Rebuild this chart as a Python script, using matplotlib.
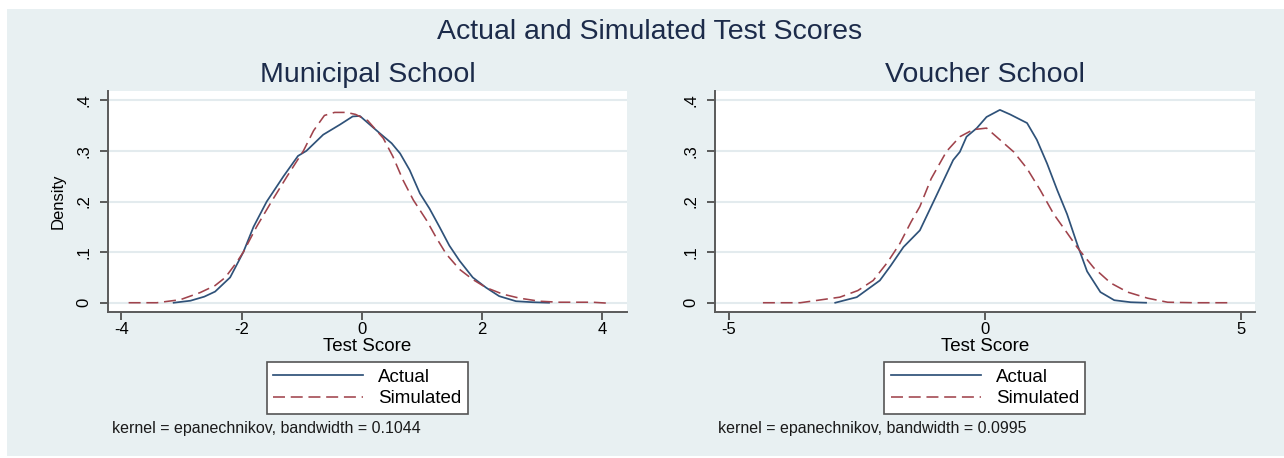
import numpy as np
import matplotlib.pyplot as plt
from matplotlib.patches import Rectangle

plt.rcParams['font.family'] = ['Liberation Sans', 'DejaVu Sans']

# ---------- data ----------
muni_act_x = [-3.13, -2.85, -2.62, -2.44, -2.19, -1.97, -1.80, -1.58, -1.30, -1.06,
              -0.92, -0.64, -0.36, -0.15, -0.03, 0.30, 0.50, 0.64, 0.80, 0.97,
              1.13, 1.30, 1.46, 1.63, 1.85, 2.07, 2.29, 2.57, 2.85, 3.12]
muni_act_y = [0.000, 0.004, 0.012, 0.022, 0.050, 0.100, 0.150, 0.200, 0.250, 0.290,
              0.300, 0.332, 0.352, 0.368, 0.369, 0.335, 0.315, 0.295, 0.262, 0.216,
              0.186, 0.149, 0.113, 0.083, 0.050, 0.030, 0.013, 0.003, 0.001, 0.000]

muni_sim_x = [-3.88, -3.41, -3.02, -2.69, -2.44, -2.27, -2.08, -1.97, -1.75, -1.50,
              -1.24, -0.97, -0.80, -0.62, -0.45, -0.25, -0.10, 0.10, 0.36, 0.52,
              0.69, 0.86, 1.08, 1.24, 1.41, 1.63, 1.85, 2.07, 2.35, 2.63,
              2.96, 3.29, 3.84, 4.12]
muni_sim_y = [0.000, 0.000, 0.006, 0.020, 0.034, 0.050, 0.080, 0.100, 0.150, 0.200,
              0.250, 0.300, 0.340, 0.370, 0.376, 0.376, 0.372, 0.360, 0.325, 0.289,
              0.242, 0.203, 0.163, 0.129, 0.096, 0.066, 0.046, 0.030, 0.017, 0.009,
              0.003, 0.001, 0.001, -0.001]

vouch_act_x = [-2.92, -2.50, -2.05, -1.84, -1.59, -1.27, -0.96, -0.62, -0.49, -0.36,
               -0.16, 0.03, 0.29, 0.49, 0.82, 1.01, 1.21, 1.41, 1.60, 1.80,
               1.99, 2.25, 2.52, 2.84, 3.14]
vouch_act_y = [0.000, 0.011, 0.044, 0.073, 0.110, 0.143, 0.209, 0.282, 0.298, 0.328,
               0.345, 0.367, 0.381, 0.372, 0.355, 0.322, 0.275, 0.222, 0.175, 0.115,
               0.062, 0.021, 0.005, 0.001, 0.000]

vouch_sim_x = [-4.33, -3.60, -2.83, -2.48, -2.18, -1.90, -1.66, -1.44, -1.27, -1.05,
               -0.75, -0.49, -0.23, 0.03, 0.29, 0.56, 0.82, 1.08, 1.34, 1.60,
               1.80, 2.12, 2.45, 2.78, 3.17, 3.56, 4.08, 4.74]
vouch_sim_y = [0.000, 0.000, 0.011, 0.024, 0.044, 0.080, 0.117, 0.160, 0.190, 0.245,
               0.299, 0.328, 0.342, 0.345, 0.322, 0.298, 0.265, 0.222, 0.175, 0.138,
               0.109, 0.069, 0.039, 0.021, 0.009, 0.001, 0.000, 0.000]

panel_titles = ['Municipal School', 'Voucher School']
notes = ['kernel = epanechnikov, bandwidth = 0.1044',
         'kernel = epanechnikov, bandwidth = 0.0995']
xticks = [[-4, -2, 0, 2, 4], [-5, 0, 5]]
yticks = [0, 0.1, 0.2, 0.3, 0.4]
ytick_labels = ['0', '.1', '.2', '.3', '.4']

# ---------- style ----------
W, H = 1284, 458
BG = '#e8f0f2'
GRID = '#e3ebee'
AXC = '#5a5a5a'
BLUE = '#2f5279'
RED = '#a0434c'
TITLE = '#1c2b4a'

def fx(px):
    return px / W

def fy(py):
    return 1 - py / H

fig = plt.figure(figsize=(W / 100, H / 100), dpi=100)
fig.patch.set_facecolor('white')
fig.add_artist(Rectangle((fx(7), fy(456)), fx(1284) - fx(7), fy(9) - fy(456),
                         transform=fig.transFigure, facecolor=BG,
                         edgecolor='none', zorder=0))

fig.text(fx(650), fy(32), 'Actual and Simulated Test Scores', fontsize=20.5,
         ha='center', va='center', color=TITLE)

# pixel boxes of the two plot regions: left, right
boxes = [(108.2, 626.5), (714.7, 1254.8)]
xlims = [(-4.22, 4.41), (-5.27, 5.26)]
series = [(muni_act_x, muni_act_y, muni_sim_x, muni_sim_y),
          (vouch_act_x, vouch_act_y, vouch_sim_x, vouch_sim_y)]
note_x = [112, 718]

for i in range(2):
    l, r = boxes[i]
    ax = fig.add_axes([fx(l), fy(312), (r - l) / W, 221 / H])
    ax.set_facecolor('white')
    ax_x, ax_y, sm_x, sm_y = series[i]
    ax.plot(ax_x, ax_y, color=BLUE, lw=1.25, label='Actual', zorder=3)
    ax.plot(sm_x, sm_y, color=RED, lw=1.15, dashes=(7.5, 3.6), label='Simulated', zorder=3)

    ax.set_xlim(*xlims[i])
    ax.set_ylim(-0.0183, 0.4183)
    ax.set_xticks(xticks[i])
    ax.set_xticklabels([str(t) for t in xticks[i]])
    ax.set_yticks(yticks)
    ax.set_yticklabels(ytick_labels)
    plt.setp(ax.get_yticklabels(), rotation=90, va='center')

    for s in ['top', 'right']:
        ax.spines[s].set_visible(False)
    for s in ['left', 'bottom']:
        ax.spines[s].set_color(AXC)
        ax.spines[s].set_linewidth(1.4)
    ax.tick_params(axis='both', colors=AXC, width=1.4, length=6, labelsize=12,
                   labelcolor='black')
    ax.tick_params(axis='x', pad=1.5)
    ax.tick_params(axis='y', pad=6)
    ax.yaxis.grid(True, color=GRID, lw=1.5)
    ax.set_axisbelow(True)

    ax.set_xlabel('Test Score', fontsize=13.5)
    ax.xaxis.set_label_coords(0.5, -0.118)
    if i == 0:
        ax.set_ylabel('Density', fontsize=12)
        ax.yaxis.set_label_coords(-0.083, 0.5)

    fig.text(fx((l + r) / 2), fy(75), panel_titles[i], fontsize=20.5,
             ha='center', va='center', color=TITLE)

    leg = ax.legend(loc='center', bbox_to_anchor=(fx((l + r) / 2), fy(388)),
                    bbox_transform=fig.transFigure, fancybox=False, framealpha=1,
                    edgecolor='#555555', fontsize=13.5, handlelength=4.8,
                    handletextpad=0.8, borderpad=0.35, labelspacing=0.22,
                    borderaxespad=0)
    leg.get_frame().set_linewidth(1.2)

    fig.text(fx(note_x[i]), fy(428), notes[i], fontsize=11.5, ha='left',
             va='center', color='#1a1a1a')

fig.savefig('out.png', dpi=100, facecolor=fig.get_facecolor())
